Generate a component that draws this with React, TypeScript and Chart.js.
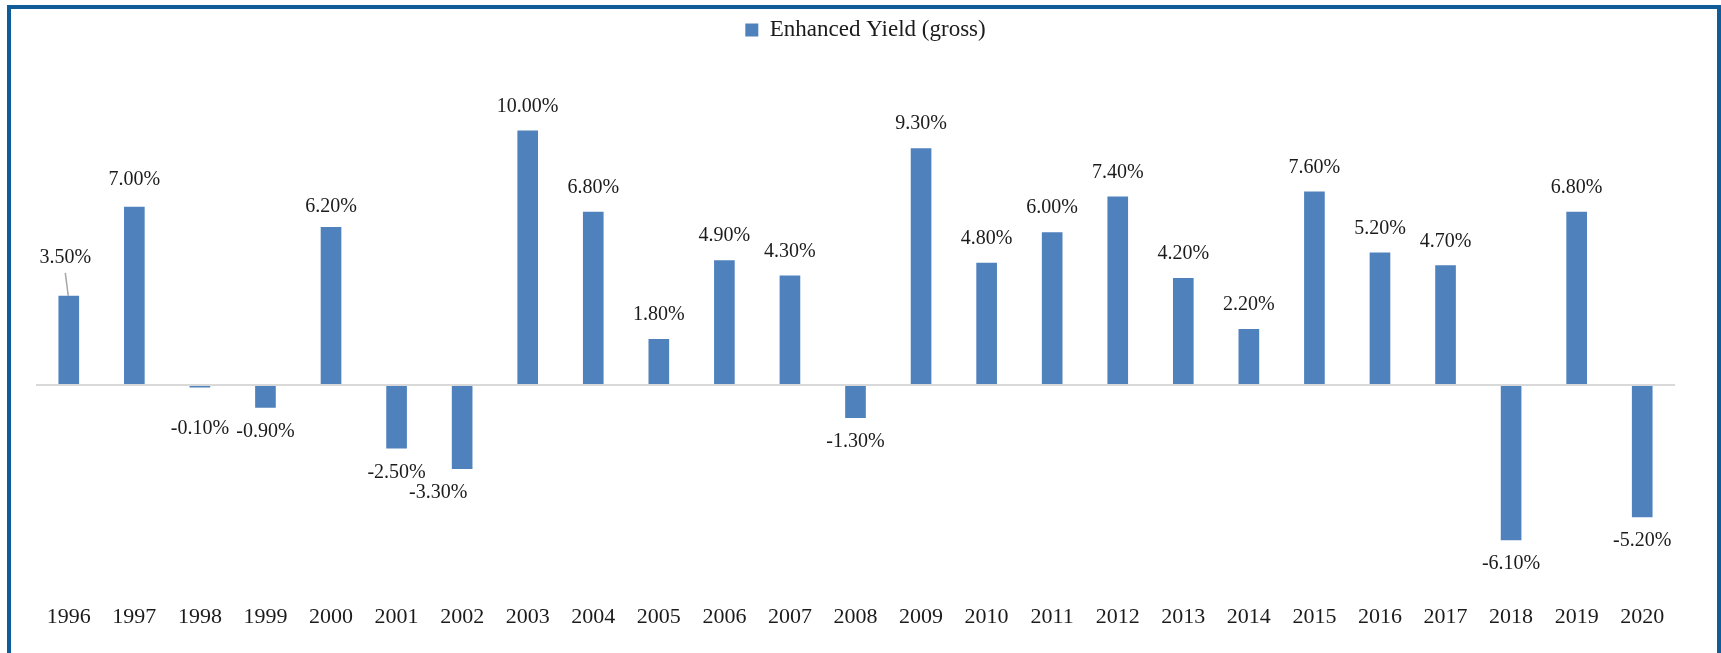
import React, { useEffect, useRef } from "react";
import { Chart, registerables } from "chart.js";

Chart.register(...registerables);

const years: string[] = [
  "1996", "1997", "1998", "1999", "2000", "2001", "2002", "2003", "2004", "2005",
  "2006", "2007", "2008", "2009", "2010", "2011", "2012", "2013", "2014", "2015",
  "2016", "2017", "2018", "2019", "2020",
];

const enhancedYield: number[] = [
  3.5, 7.0, -0.1, -0.9, 6.2, -2.5, -3.3, 10.0, 6.8, 1.8,
  4.9, 4.3, -1.3, 9.3, 4.8, 6.0, 7.4, 4.2, 2.2, 7.6,
  5.2, 4.7, -6.1, 6.8, -5.2,
];

const seriesLabel = "Enhanced Yield (gross)";

const FONT = "'Liberation Serif', 'Times New Roman', serif";
const BAR_COLOR = "#4F81BD";
const TEXT_COLOR = "#1b1b1b";

// label nudges (pixels) for individually placed data labels
const labelNudges: Record<number, { dx?: number; dy?: number; leader?: boolean }> = {
  0: { dx: -3.5, dy: -14, leader: true },
  1: { dy: -3 },
  2: { dy: 17.5 },
  4: { dy: 4 },
  6: { dx: -24 },
};

const dataLabelPlugin = {
  id: "dataLabels",
  afterDatasetsDraw(chart: any) {
    const ctx = chart.ctx;
    const meta = chart.getDatasetMeta(0);
    const data = chart.data.datasets[0].data as number[];
    ctx.save();
    ctx.font = `20px ${FONT}`;
    ctx.fillStyle = TEXT_COLOR;
    ctx.textAlign = "center";
    ctx.textBaseline = "middle";
    meta.data.forEach((bar: any, i: number) => {
      const v = data[i];
      const n = labelNudges[i] || {};
      const x = bar.x + (n.dx || 0);
      const y = (v >= 0 ? bar.y - 24 : bar.y + 24) + (n.dy || 0);
      ctx.fillText(v.toFixed(2) + "%", x, y);
      if (n.leader) {
        ctx.strokeStyle = "#A6A6A6";
        ctx.lineWidth = 1.5;
        ctx.beginPath();
        ctx.moveTo(x, y + 15);
        ctx.lineTo(bar.x - 0.5, bar.y);
        ctx.stroke();
      }
    });
    ctx.restore();
  },
};

// nudges the legend slightly right, as in the original
const legendShiftPlugin = {
  id: "legendShift",
  afterLayout(chart: any) {
    if (chart.legend) {
      chart.legend.left += 10;
      chart.legend.right += 10;
    }
  },
};

export default function App() {
  const canvasRef = useRef<HTMLCanvasElement | null>(null);

  useEffect(() => {
    if (!canvasRef.current) return;
    const chart = new Chart(canvasRef.current, {
      type: "bar",
      data: {
        labels: years,
        datasets: [
          {
            label: seriesLabel,
            data: enhancedYield,
            backgroundColor: BAR_COLOR,
            borderWidth: 0,
            barPercentage: 0.315,
            categoryPercentage: 1,
          },
        ],
      },
      options: {
        responsive: false,
        animation: false,
        layout: { padding: { left: 36, right: 46, top: 8.5, bottom: 0 } },
        font: { family: FONT },
        plugins: {
          legend: {
            display: true,
            position: "top",
            labels: {
              boxWidth: 13,
              boxHeight: 13,
              padding: 10,
              color: TEXT_COLOR,
              font: { family: FONT, size: 23 },
            },
          },
          tooltip: { enabled: false },
        },
        scales: {
          x: {
            grid: { display: false, drawTicks: false },
            border: { display: false },
            ticks: {
              color: TEXT_COLOR,
              font: { family: FONT, size: 22 },
              padding: 16,
              maxRotation: 0,
              autoSkip: false,
            },
            afterFit(scale: any) {
              scale.height = 65;
            },
          },
          y: {
            min: -7.98,
            max: 13.1,
            display: true,
            ticks: { display: false, stepSize: 1 },
            border: { display: false },
            grid: {
              drawTicks: false,
              lineWidth: 2,
              color: (c: any) => (c.tick && c.tick.value === 0 ? "#D9D9D9" : "rgba(0,0,0,0)"),
            },
          },
        },
      },
      plugins: [dataLabelPlugin, legendShiftPlugin],
    });
    return () => chart.destroy();
  }, []);

  return (
    <>
      <div
        style={{
          position: "fixed",
          left: 7,
          top: 5,
          width: 1714,
          height: 700,
          boxSizing: "border-box",
          border: "4px solid #0F5C9A",
          background: "#fff",
        }}
      />
      <canvas
        ref={canvasRef}
        width={1721}
        height={653}
        style={{ position: "fixed", left: 0, top: 0, width: 1721, height: 653 }}
      />
    </>
  );
}
